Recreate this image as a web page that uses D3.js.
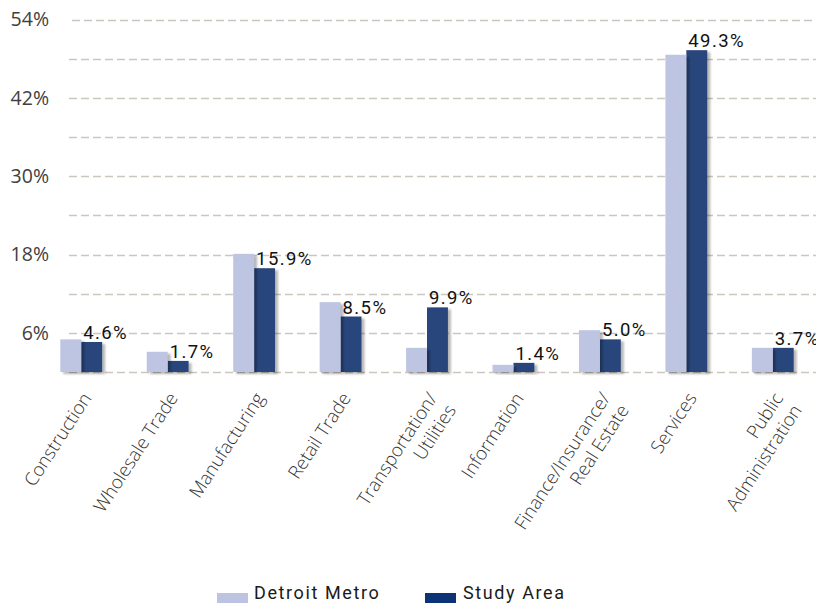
<!DOCTYPE html>
<html>
<head>
<meta charset="utf-8">
<script src="https://cdn.jsdelivr.net/npm/d3@7"></script>
<style>
  body { margin: 0; background: #fff; }
  svg { display: block; }
</style>
</head>
<body>
<div id="chart-area"></div>
<script>
// industry categories (line breaks kept as arrays)
var categories = ["Construction", "Wholesale Trade", "Manufacturing", "Retail Trade",
  "Transportation/ Utilities", "Information", "Finance/Insurance/ Real Estate",
  "Services", "Public Administration"];
var labelLines = [["Construction"], ["Wholesale Trade"], ["Manufacturing"], ["Retail Trade"],
  ["Transportation/", "Utilities"], ["Information"], ["Finance/Insurance/", "Real Estate"],
  ["Services"], ["Public", "Administration"]];
var seriesNames = ["Detroit Metro", "Study Area"];
var detroitMetro = [5.0, 3.1, 18.1, 10.7, 3.7, 1.1, 6.4, 48.6, 3.7];
var studyArea = [4.6, 1.7, 15.9, 8.5, 9.9, 1.4, 5.0, 49.3, 3.7];
var gridTicks = [0, 6, 12, 18, 24, 30, 36, 42, 48, 54];
var labelTicks = [6, 18, 30, 42, 54];

var width = 816, height = 603;
var lightColor = "#bec5e3", darkColor = "#29467c";

var svg = d3.select("#chart-area").append("svg")
  .attr("width", width)
  .attr("height", height);

var defs = svg.append("defs");
defs.append("filter").attr("id", "blur")
  .append("feGaussianBlur").attr("stdDeviation", 0.8);

var y = d3.scaleLinear().domain([0, 54]).range([372, 19.5]);

var x = d3.scaleBand()
  .domain(categories)
  .range([38, 816])
  .paddingInner(0.516)
  .paddingOuter(0.258);

var x1 = d3.scaleBand()
  .domain(seriesNames)
  .range([0, x.bandwidth()]);

// dashed gridlines
svg.append("g").selectAll("line")
  .data(gridTicks)
  .enter().append("line")
    .attr("x1", (d) => d == 54 ? 72 : 69)
    .attr("x2", width)
    .attr("y1", (d) => Math.round(y(d)) + 0.5)
    .attr("y2", (d) => Math.round(y(d)) + 0.5)
    .attr("stroke", "#cbc7bf")
    .attr("stroke-width", 1.3)
    .attr("stroke-dasharray", "8,4");

// y labels
var leftAxis = d3.axisLeft(y).tickValues(labelTicks)
  .tickFormat((d) => d + "%").tickSize(0).tickPadding(0);
var ay = svg.append("g")
  .attr("class", "left axis")
  .attr("transform", "translate(49,0)")
  .call(leftAxis);
ay.select(".domain").remove();
ay.selectAll("text")
  .attr("font-family", "'Open Sans', sans-serif")
  .attr("font-size", "19.5px")
  .attr("fill", "#404040");

// bars
var groups = svg.append("g").selectAll("g")
  .data(categories)
  .enter().append("g")
    .attr("transform", (d) => "translate(" + x(d) + ",0)");

function drawBar(g, name, vals, color) {
  g.append("rect")
    .attr("x", (d, i) => x1(name) + 3)
    .attr("y", (d, i) => y(vals[i]) + 2)
    .attr("width", x1.bandwidth())
    .attr("height", (d, i) => y(0) - y(vals[i]))
    .attr("fill", "rgba(0,0,0,0.28)")
    .attr("filter", "url(#blur)");
  g.append("rect")
    .attr("x", (d, i) => x1(name))
    .attr("y", (d, i) => y(vals[i]))
    .attr("width", x1.bandwidth())
    .attr("height", (d, i) => y(0) - y(vals[i]))
    .attr("fill", color);
}
drawBar(groups, "Study Area", studyArea, darkColor);
drawBar(groups, "Detroit Metro", detroitMetro, lightColor);

// value labels for study area
groups.append("text")
  .attr("x", x1("Study Area") + 2)
  .attr("y", (d, i) => y(studyArea[i]) - 3)
  .attr("font-family", "Roboto, sans-serif")
  .attr("font-size", "18.5px")
  .attr("letter-spacing", "1.4px")
  .attr("fill", "#111")
  .text((d, i) => studyArea[i].toFixed(1) + "%");

// rotated category labels
var catLabels = svg.append("g").selectAll("text")
  .data(categories)
  .enter().append("text")
    .attr("transform", (d) => "translate(" + (x(d) + x.bandwidth() / 2 + 11) + ",398) rotate(-57)")
    .attr("text-anchor", "end")
    .attr("font-family", "'Open Sans', sans-serif")
    .attr("font-weight", 300)
    .attr("font-size", "18.5px")
    .attr("fill", "#333");
catLabels.selectAll("tspan")
  .data((d, i) => labelLines[i])
  .enter().append("tspan")
    .attr("x", 0)
    .attr("dy", (d, j) => j == 0 ? 0 : "1.2em")
    .text((d) => d);

// legend
var legend = [
  {name: "Detroit Metro", color: "#bdc4e2", sx: 217, tx: 254},
  {name: "Study Area", color: "#0c3374", sx: 425, tx: 463}
];
var lg = svg.append("g").selectAll("g").data(legend).enter().append("g");
lg.append("rect")
  .attr("x", (d) => d.sx).attr("y", 593)
  .attr("width", 31).attr("height", 12)
  .attr("fill", (d) => d.color);
lg.append("text")
  .attr("x", (d) => d.tx).attr("y", 599)
  .attr("font-family", "Roboto, sans-serif")
  .attr("font-size", "18px")
  .attr("letter-spacing", "1.6px")
  .attr("fill", "#1a1a1a")
  .text((d) => d.name);
</script>
</body>
</html>
